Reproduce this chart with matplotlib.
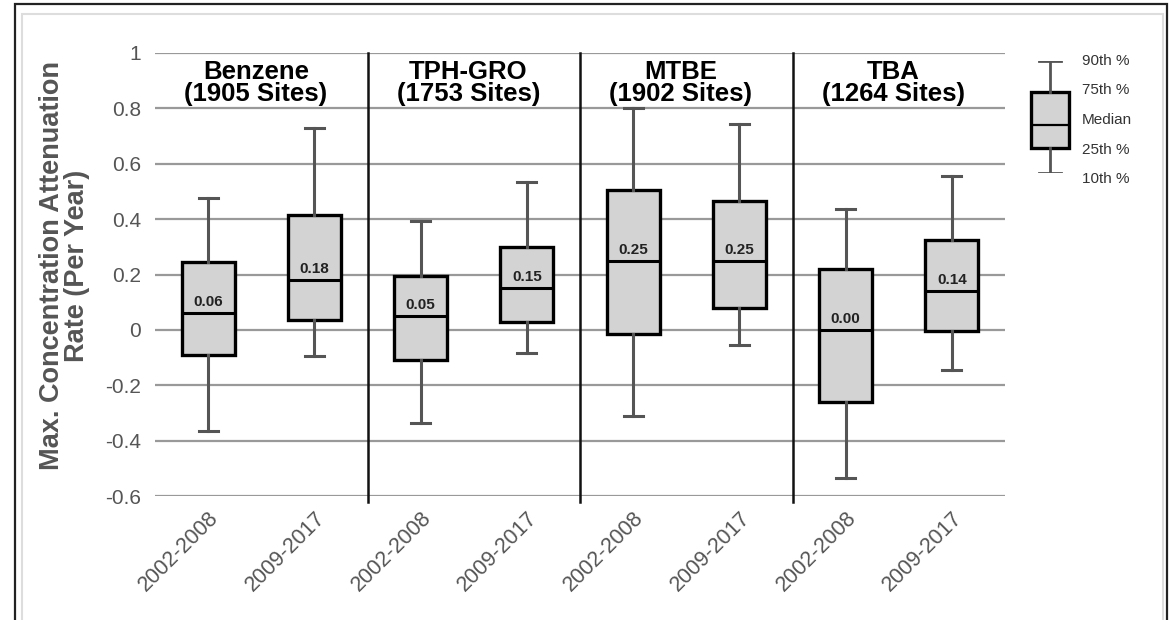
import matplotlib
matplotlib.use('Agg')
import matplotlib.pyplot as plt
from matplotlib.patches import Rectangle

plt.rcParams['font.family'] = ['Liberation Sans', 'DejaVu Sans']

# data (10th, 25th, median, 75th, 90th percentiles)
compounds = ['Benzene', 'TPH-GRO', 'MTBE', 'TBA']
site_counts = [1905, 1753, 1902, 1264]
periods = ['2002-2008', '2009-2017']
p10 = [-0.365, -0.095, -0.335, -0.085, -0.31, -0.055, -0.535, -0.145]
p25 = [-0.09, 0.035, -0.11, 0.03, -0.015, 0.08, -0.26, -0.005]
medians = [0.06, 0.18, 0.05, 0.15, 0.25, 0.25, 0.00, 0.14]
p75 = [0.245, 0.415, 0.195, 0.30, 0.505, 0.465, 0.22, 0.325]
p90 = [0.475, 0.73, 0.395, 0.535, 0.80, 0.745, 0.435, 0.555]
yticks = [1, 0.8, 0.6, 0.4, 0.2, 0, -0.2, -0.4, -0.6]
legend_labels = ['90th %', '75th %', 'Median', '25th %', '10th %']

W, H = 1169, 620
fig = plt.figure(figsize=(W / 100, H / 100), dpi=100)

# frame around the picture
fig.add_artist(Rectangle((15 / W, -0.1), (1167 - 15) / W, 1.1 - 4 / H,
                         transform=fig.transFigure, fill=False,
                         edgecolor='#222222', lw=1.6))
fig.add_artist(Rectangle((22 / W, -0.1), (1163 - 22) / W, 1.1 - 14 / H,
                         transform=fig.transFigure, fill=False,
                         edgecolor='#dddddd', lw=1.5))

ax = fig.add_axes([155 / W, 1 - 496 / H, 850 / W, (496 - 53) / H])

stats = []
for i in range(len(medians)):
    stats.append({'whislo': p10[i], 'q1': p25[i], 'med': medians[i],
                  'q3': p75[i], 'whishi': p90[i], 'fliers': []})

pos = list(range(len(stats)))
ax.bxp(stats, positions=pos, widths=0.5, capwidths=0.18, patch_artist=True,
       showfliers=False,
       boxprops=dict(facecolor='#d3d3d3', edgecolor='black', linewidth=2.4),
       medianprops=dict(color='black', linewidth=2.2),
       whiskerprops=dict(color='#555555', linewidth=2.2),
       capprops=dict(color='#555555', linewidth=2.2), zorder=3)

for i, m in enumerate(medians):
    ax.text(pos[i], m + 0.015, '%.2f' % m, ha='center', va='bottom',
            fontsize=11, fontweight='bold', color='#222222', zorder=4)

for y in yticks:
    ax.axhline(y, color='#999999', lw=1.6, zorder=1)
for k in range(1, len(compounds)):
    ax.plot([2 * k - 0.5, 2 * k - 0.5], [-0.62, 1], color='#111111', lw=1.8,
            zorder=2, clip_on=False)

for k, name in enumerate(compounds):
    ax.text(2 * k + 0.45, 0.975, '%s\n(%d Sites)' % (name, site_counts[k]),
            ha='center', va='top', fontsize=18.5, fontweight='bold',
            linespacing=0.92, color='black', zorder=4)

ax.set_xlim(-0.5, len(stats) - 0.5)
ax.set_ylim(-0.6, 1)
ax.set_yticks(yticks)
ax.set_yticklabels(['%g' % y for y in yticks], fontsize=15, color='#555555')
ax.set_xticks(pos)
ax.set_xticklabels(periods * len(compounds), rotation=45, ha='right',
                   rotation_mode='anchor', fontsize=15.5, color='#555555')
ax.tick_params(length=0, pad=10)
ax.tick_params(axis='x', pad=8)
for s in ax.spines.values():
    s.set_visible(False)
ax.set_ylabel('Max. Concentration Attenuation\nRate (Per Year)', fontsize=19.5,
              fontweight='bold', color='#555555', linespacing=0.95)
ax.yaxis.set_label_coords(-0.077, 0.52)

# legend key
lax = fig.add_axes([1020 / W, 1 - 173 / H, 60 / W, (173 - 61) / H])
lax.bxp([{'whislo': 0, 'q1': 0.22, 'med': 0.43, 'q3': 0.72, 'whishi': 1,
          'fliers': []}], positions=[0], widths=0.62, capwidths=0.38,
        patch_artist=True, showfliers=False,
        boxprops=dict(facecolor='#d3d3d3', edgecolor='black', linewidth=2.4),
        medianprops=dict(color='black', linewidth=1.6),
        whiskerprops=dict(color='#555555', linewidth=2.0),
        capprops=dict(color='#555555', linewidth=2.0))
lax.set_xlim(-0.5, 0.5)
lax.set_ylim(0, 1)
lax.axis('off')
for j, lab in enumerate(legend_labels):
    fig.text(1082 / W, 1 - (61 + j * 29.5) / H, lab, ha='left', va='center',
             fontsize=11, color='#333333')

fig.savefig('out.png', dpi=100)
